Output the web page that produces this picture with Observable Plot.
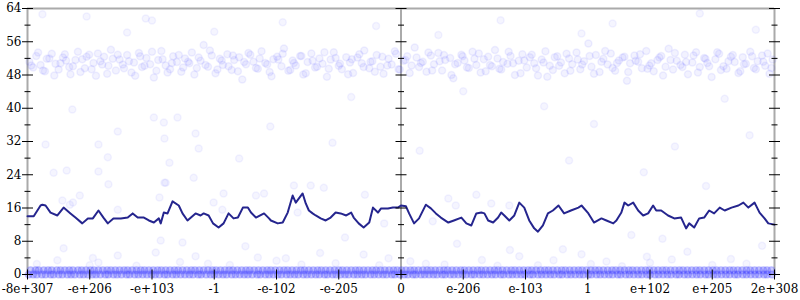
<!DOCTYPE html>
<html>
<head>
<meta charset="utf-8">
<script src="https://cdn.jsdelivr.net/npm/d3@7"></script>
<script src="https://cdn.jsdelivr.net/npm/@observablehq/plot@0.6"></script>
<style>
  html, body { margin: 0; padding: 0; background: #fff; }
  #chart svg { display: block; }
</style>
</head>
<body>
<div id="chart"></div>
<script>
// ---------- axis values ----------
const yTicks = [0, 8, 16, 24, 32, 40, 48, 56, 64];
const yMinorTicks = [4, 12, 20, 28, 36, 44, 52, 60];
const yAxisAt = [-6, 0, 6];
const xTickPos = [-6, -5, -4, -3, -2, -1, 0, 1, 2, 3, 4, 5, 6];
const xTickLabels = ["-8e+307", "-e+206", "-e+103", "-1", "-e-102", "-e-205", "0",
                     "e-206", "e-103", "1", "e+102", "e+205", "2e+308"];

// ---------- trend line (moving average) ----------
const trend = [[-6.00,14.0],[-5.90,14.0],[-5.79,16.6],[-5.76,16.8],[-5.71,16.6],[-5.63,14.9],[-5.52,14.2],[-5.42,16.1],[-5.31,14.7],[-5.23,13.7],[-5.12,12.3],[-5.03,13.5],[-4.95,13.5],[-4.86,15.4],[-4.78,13.7],[-4.71,12.3],[-4.62,13.5],[-4.50,13.5],[-4.39,13.7],[-4.31,14.7],[-4.23,13.7],[-4.13,13.7],[-4.05,13.0],[-3.97,12.5],[-3.89,13.5],[-3.86,12.3],[-3.81,14.9],[-3.75,14.7],[-3.67,17.6],[-3.57,16.6],[-3.51,14.7],[-3.43,13.0],[-3.30,14.7],[-3.22,14.2],[-3.17,14.7],[-3.09,14.2],[-3.02,12.3],[-2.93,11.3],[-2.85,12.3],[-2.77,14.7],[-2.69,13.5],[-2.62,13.7],[-2.54,16.1],[-2.46,16.1],[-2.41,14.9],[-2.33,13.7],[-2.20,14.7],[-2.12,13.5],[-2.09,13.0],[-1.98,12.3],[-1.90,12.5],[-1.82,14.9],[-1.74,19.0],[-1.69,17.3],[-1.58,19.5],[-1.53,17.1],[-1.48,15.4],[-1.42,14.7],[-1.37,14.2],[-1.29,13.5],[-1.21,13.0],[-1.13,13.7],[-1.05,14.9],[-0.97,14.7],[-0.88,14.2],[-0.80,14.9],[-0.76,13.7],[-0.68,12.3],[-0.60,11.3],[-0.51,12.5],[-0.45,16.1],[-0.37,14.9],[-0.32,15.9],[-0.21,15.9],[-0.13,16.1],[-0.05,16.1],[0.00,16.6],[0.08,16.4],[0.13,14.7],[0.21,12.3],[0.29,13.5],[0.40,16.8],[0.48,15.9],[0.56,14.7],[0.64,13.7],[0.76,12.5],[0.85,13.0],[0.97,13.7],[1.05,12.3],[1.13,11.8],[1.21,14.7],[1.29,14.9],[1.34,14.7],[1.40,13.0],[1.48,12.5],[1.56,13.7],[1.61,14.9],[1.66,14.2],[1.74,13.0],[1.82,14.2],[1.90,17.3],[1.98,16.1],[2.06,13.0],[2.14,11.1],[2.20,10.3],[2.28,11.8],[2.36,14.7],[2.44,15.4],[2.53,16.6],[2.62,14.7],[2.73,15.4],[2.85,16.1],[2.90,16.6],[3.01,14.7],[3.10,12.5],[3.22,13.5],[3.30,13.0],[3.41,12.3],[3.46,13.0],[3.54,14.9],[3.59,17.3],[3.65,16.6],[3.73,17.3],[3.81,15.4],[3.89,14.2],[3.97,14.7],[4.05,16.6],[4.10,15.4],[4.18,15.4],[4.29,14.2],[4.39,13.5],[4.50,13.7],[4.58,11.1],[4.63,12.3],[4.71,11.3],[4.79,13.5],[4.87,13.7],[4.95,15.4],[5.03,14.7],[5.12,16.1],[5.20,15.4],[5.31,16.1],[5.42,16.6],[5.50,17.3],[5.58,16.1],[5.68,17.3],[5.76,14.9],[5.84,13.5],[5.90,12.3],[6.00,12.0]];

// ---------- upper cloud of points ----------
const topBand = [[-5.97,51.2],[-5.91,49.8],[-5.86,52.6],[-5.79,50.4],[-5.72,48.9],[-5.69,51.9],[-5.61,53.1],[-5.55,50.7],[-5.5,49.3],[-5.43,52.2],[-5.38,51.5],[-5.31,48.2],[-5.27,50.1],[-5.19,53.6],[-5.12,51.8],[-5.08,49.6],[-5.01,52.9],[-4.94,50.9],[-4.9,47.8],[-4.83,51.3],[-4.77,52.4],[-4.7,50.2],[-4.66,54.1],[-4.58,49.1],[-4.52,51.7],[-4.47,50.5],[-4.4,52.8],[-4.33,48.6],[-4.29,51.0],[-4.21,53.3],[-4.16,49.9],[-4.09,52.1],[-4.03,50.6],[-3.97,47.4],[-3.9,51.6],[-3.85,53.8],[-3.78,50.3],[-3.71,49.4],[-3.66,52.5],[-3.6,51.1],[-3.53,48.8],[-3.47,52.0],[-3.4,50.8],[-3.36,53.4],[-3.28,49.7],[-3.22,51.4],[-3.17,55.2],[-3.1,50.0],[-3.04,52.7],[-2.98,48.4],[-2.91,51.9],[-2.86,50.4],[-2.79,53.0],[-2.72,49.2],[-2.68,51.6],[-2.6,52.3],[-2.55,46.9],[-2.49,50.6],[-2.42,52.9],[-2.37,51.2],[-2.3,49.5],[-2.24,53.7],[-2.18,50.9],[-2.11,48.7],[-2.05,51.8],[-1.99,52.4],[-1.92,50.1],[-1.88,54.4],[-1.81,49.0],[-1.74,51.5],[-1.69,50.3],[-1.62,52.6],[-1.57,48.1],[-1.5,51.1],[-1.44,53.2],[-1.38,49.8],[-1.31,52.0],[-1.26,50.7],[-1.19,47.6],[-1.13,51.7],[-1.08,53.5],[-1.0,50.2],[-0.95,49.4],[-0.88,52.3],[-0.82,51.0],[-0.77,48.5],[-0.7,52.2],[-0.63,50.8],[-0.59,53.9],[-0.51,49.6],[-0.46,51.3],[-0.39,52.8],[-0.33,50.0],[-0.28,48.3],[-0.2,51.9],[-0.15,50.5],[-0.08,53.1],[-0.02,49.3],[0.04,51.4],[0.1,52.5],[0.17,50.3],[0.22,54.6],[0.29,49.9],[0.35,51.2],[0.41,48.8],[0.48,52.7],[0.53,50.6],[0.6,53.3],[0.66,49.1],[0.71,51.6],[0.79,52.1],[0.84,47.2],[0.91,50.9],[0.97,52.9],[1.02,51.5],[1.09,49.7],[1.15,53.6],[1.21,50.4],[1.28,48.6],[1.33,51.8],[1.4,52.4],[1.46,50.1],[1.51,54.0],[1.58,49.5],[1.64,51.1],[1.71,50.7],[1.76,52.6],[1.83,48.0],[1.89,51.4],[1.95,53.0],[2.02,49.8],[2.07,52.3],[2.14,50.8],[2.2,47.9],[2.26,51.7],[2.32,53.7],[2.39,50.2],[2.44,49.2],[2.51,52.5],[2.57,51.0],[2.63,48.4],[2.7,52.0],[2.75,50.6],[2.82,53.4],[2.88,49.4],[2.94,51.3],[3.01,55.6],[3.06,50.0],[3.13,52.8],[3.19,48.7],[3.25,51.9],[3.32,50.5],[3.37,53.2],[3.44,49.0],[3.5,51.5],[3.56,52.2],[3.63,46.6],[3.68,50.8],[3.75,52.7],[3.81,51.2],[3.87,49.6],[3.94,53.8],[3.99,50.3],[4.06,48.9],[4.12,51.6],[4.18,52.6],[4.25,50.0],[4.3,54.3],[4.37,49.3],[4.43,51.4],[4.49,50.4],[4.56,52.9],[4.61,48.2],[4.68,51.0],[4.74,53.5],[4.8,49.9],[4.87,52.1],[4.92,50.9],[4.99,47.5],[5.05,51.8],[5.11,53.1],[5.18,50.1],[5.23,49.5],[5.3,52.4],[5.36,51.1],[5.42,48.5],[5.49,52.3],[5.54,50.7],[5.61,53.6],[5.67,49.7],[5.73,51.3],[5.8,52.7],[5.85,50.2],[5.92,48.3],[5.97,51.7]];
const topBand2 = [[-5.94,50.3],[-5.83,53.4],[-5.75,49.1],[-5.65,52.0],[-5.57,47.9],[-5.47,50.8],[-5.4,53.0],[-5.33,49.9],[-5.23,51.6],[-5.15,48.7],[-5.05,52.4],[-4.97,49.4],[-4.87,53.2],[-4.8,50.5],[-4.72,48.3],[-4.63,51.9],[-4.55,52.9],[-4.45,49.6],[-4.37,51.3],[-4.27,47.8],[-4.19,52.5],[-4.12,50.2],[-4.0,53.6],[-3.93,49.0],[-3.83,51.8],[-3.75,48.6],[-3.68,50.9],[-3.57,52.8],[-3.5,49.8],[-3.42,51.2],[-3.32,48.1],[-3.25,52.2],[-3.14,50.4],[-3.07,53.9],[-2.95,49.3],[-2.88,51.5],[-2.77,50.1],[-2.7,52.7],[-2.62,48.9],[-2.52,51.1],[-2.45,53.3],[-2.33,49.7],[-2.27,52.0],[-2.15,50.6],[-2.08,47.7],[-1.97,51.7],[-1.9,53.1],[-1.78,49.2],[-1.72,50.9],[-1.6,52.6],[-1.53,48.4],[-1.42,51.4],[-1.35,50.0],[-1.23,53.5],[-1.16,49.5],[-1.05,52.1],[-0.98,50.7],[-0.85,48.2],[-0.79,51.8],[-0.67,53.0],[-0.6,49.9],[-0.49,51.2],[-0.42,48.8],[-0.3,52.4],[-0.22,50.3],[-0.1,53.7],[-0.04,49.4],[0.07,51.6],[0.14,48.5],[0.25,52.2],[0.32,50.9],[0.44,53.4],[0.5,49.1],[0.62,51.3],[0.69,52.8],[0.81,48.0],[0.87,50.6],[0.99,52.5],[1.06,49.8],[1.18,51.9],[1.25,53.2],[1.36,48.9],[1.43,50.4],[1.55,52.0],[1.61,49.3],[1.73,53.6],[1.8,50.8],[1.92,48.4],[1.98,51.5],[2.1,52.9],[2.17,49.6],[2.29,51.0],[2.35,47.6],[2.47,52.3],[2.54,50.2],[2.66,53.1],[2.72,49.0],[2.84,51.7],[2.91,50.5],[3.03,52.6],[3.1,48.3],[3.22,51.2],[3.28,53.8],[3.4,49.7],[3.47,50.9],[3.59,52.4],[3.65,48.7],[3.77,51.4],[3.84,53.0],[3.96,49.5],[4.02,50.8],[4.15,52.2],[4.21,47.9],[4.33,51.6],[4.4,53.3],[4.52,49.9],[4.58,51.1],[4.7,52.7],[4.77,48.6],[4.89,51.9],[4.95,50.1],[5.08,53.5],[5.14,49.2],[5.26,51.3],[5.33,52.8],[5.45,48.9],[5.51,50.6],[5.64,52.5],[5.7,49.4],[5.82,51.2],[5.89,53.2],[5.95,49.7]];

// ---------- lower band of points (values 0 and 1) ----------
const zeroRowX = [-5.98,-5.91,-5.85,-5.77,-5.71,-5.63,-5.58,-5.5,-5.44,-5.36,-5.3,-5.24,-5.16,-5.1,-5.03,-4.96,-4.9,-4.83,-4.75,-4.7,-4.62,-4.56,-4.49,-4.41,-4.36,-4.28,-4.22,-4.15,-4.08,-4.01,-3.95,-3.88,-3.8,-3.75,-3.67,-3.61,-3.54,-3.47,-3.4,-3.34,-3.26,-3.21,-3.13,-3.06,-3.0,-2.93,-2.86,-2.8,-2.72,-2.66,-2.59,-2.52,-2.46,-2.39,-2.31,-2.26,-2.18,-2.12,-2.05,-1.98,-1.92,-1.84,-1.78,-1.71,-1.65,-1.57,-1.51,-1.44,-1.37,-1.31,-1.23,-1.18,-1.1,-1.04,-0.97,-0.9,-0.84,-0.76,-0.7,-0.63,-0.57,-0.49,-0.43,-0.36,-0.29,-0.23,-0.15,-0.1,-0.02,0.05,0.11,0.19,0.24,0.32,0.38,0.45,0.52,0.58,0.66,0.71,0.79,0.85,0.92,0.99,1.05,1.13,1.18,1.26,1.32,1.39,1.46,1.52,1.6,1.65,1.73,1.79,1.86,1.93,1.99,2.07,2.12,2.2,2.26,2.33,2.4,2.46,2.54,2.59,2.67,2.73,2.8,2.87,2.93,3.01,3.06,3.14,3.2,3.27,3.34,3.4,3.48,3.53,3.61,3.67,3.74,3.81,3.87,3.95,4.0,4.08,4.14,4.21,4.28,4.34,4.42,4.47,4.55,4.61,4.68,4.75,4.81,4.89,4.94,5.02,5.08,5.15,5.22,5.28,5.36,5.41,5.49,5.55,5.62,5.69,5.75,5.83,5.88,5.96];
const oneRowX = [-5.95,-5.87,-5.82,-5.74,-5.67,-5.61,-5.53,-5.47,-5.4,-5.33,-5.27,-5.19,-5.13,-5.06,-4.99,-4.93,-4.86,-4.79,-4.72,-4.66,-4.59,-4.52,-4.45,-4.39,-4.32,-4.25,-4.18,-4.12,-4.05,-3.98,-3.91,-3.85,-3.78,-3.71,-3.64,-3.58,-3.51,-3.44,-3.37,-3.31,-3.24,-3.17,-3.1,-3.03,-2.97,-2.9,-2.83,-2.76,-2.7,-2.63,-2.56,-2.49,-2.43,-2.36,-2.29,-2.22,-2.15,-2.09,-2.02,-1.95,-1.88,-1.82,-1.75,-1.68,-1.61,-1.55,-1.48,-1.41,-1.34,-1.28,-1.21,-1.14,-1.07,-1.0,-0.94,-0.87,-0.8,-0.73,-0.67,-0.6,-0.53,-0.46,-0.4,-0.33,-0.26,-0.19,-0.12,-0.06,0.01,0.08,0.15,0.21,0.28,0.35,0.42,0.48,0.55,0.62,0.69,0.75,0.82,0.89,0.96,1.02,1.09,1.16,1.23,1.29,1.36,1.43,1.5,1.56,1.63,1.7,1.77,1.83,1.9,1.97,2.04,2.1,2.17,2.24,2.31,2.37,2.44,2.51,2.58,2.64,2.71,2.78,2.85,2.91,2.98,3.05,3.12,3.18,3.25,3.32,3.39,3.45,3.52,3.59,3.66,3.72,3.79,3.86,3.93,3.99,4.06,4.13,4.2,4.26,4.33,4.4,4.47,4.53,4.6,4.67,4.74,4.8,4.87,4.94,5.01,5.07,5.14,5.21,5.28,5.34,5.41,5.48,5.55,5.61,5.68,5.75,5.82,5.88,5.95];

// ---------- scattered points between the bands ----------
const sparse = [[-5.76,62.6],[-5.05,62.1],[-4.1,61.6],[-4.0,61.1],[-5.28,39.7],[-4.55,34.4],[-5.71,31.3],[-4.86,31.3],[-4.71,28.2],[-5.58,24.5],[-5.37,25.0],[-4.86,24.8],[-4.7,21.7],[-3.97,37.8],[-3.81,36.6],[-3.59,37.8],[-3.3,33.9],[-3.8,32.7],[-3.25,30.3],[-3.72,26.9],[-3.8,22.1],[-3.33,23.3],[-3.86,8.2],[-3.51,7.7],[-3.94,5.3],[-5.42,6.3],[-5.52,3.4],[-4.55,4.6],[-4.86,2.9],[-5.16,19.0],[-5.27,17.3],[-5.32,16.8],[-5.44,17.8],[-4.55,15.6],[-3.78,22.1],[-3.88,18.5],[-2.85,19.5],[-3.01,17.3],[-2.87,15.6],[-2.33,19.0],[-2.2,19.5],[-1.72,21.4],[-1.45,21.4],[-1.24,20.9],[-0.58,19.2],[-1.66,14.9],[-0.27,12.3],[0.76,18.3],[1.21,19.2],[0.88,16.6],[1.45,17.1],[1.74,16.6],[0.51,12.8],[2.3,40.5],[3.1,36.2],[4.4,30.8],[5.2,42.3],[1.0,44.1],[-0.8,42.7],[-2.1,35.6],[2.7,27.4],[3.9,24.6],[4.9,21.3],[5.6,33.5],[0.3,29.8],[-1.1,31.7],[-2.6,27.9],[-0.4,59.8],[1.6,61.2],[3.4,60.4],[4.8,62.8],[5.7,58.9],[-1.9,60.7],[-3.0,58.4],[2.9,58.0],[0.6,57.6],[-4.4,58.2],[-2.5,6.8],[-1.3,5.2],[-0.2,3.9],[0.9,7.4],[1.9,4.4],[2.6,6.1],[3.3,3.1],[4.2,8.6],[4.6,5.5],[5.3,3.7],[5.8,6.9],[-0.9,8.9],[-2.0,3.3],[3.7,9.5],[-1.6,2.4],[0.4,2.6],[2.2,2.2],[4.0,2.8],[5.0,2.3],[-3.1,2.6],[-5.0,2.2],[-0.6,4.8],[1.3,3.5],[2.9,4.9],[-5.85,2.5],[-4.25,2.1],[-3.55,3.0],[-2.75,2.3],[-2.3,4.1],[-1.05,2.7],[-0.35,2.2],[0.15,3.2],[0.7,2.4],[1.55,2.1],[2.45,3.4],[3.05,2.5],[3.55,2.0],[4.35,3.6],[5.55,2.6],[-4.95,4.0],[-1.85,3.9],[1.75,5.9],[-3.3,4.4],[3.95,4.3]];

// custom tick symbols: short strokes centred on the point
const hTick = {draw(ctx, size) { const r = Math.sqrt(size / Math.PI); ctx.moveTo(-r, 0); ctx.lineTo(r, 0); }};
const vTick = {draw(ctx, size) { const r = Math.sqrt(size / Math.PI); ctx.moveTo(0, -r); ctx.lineTo(0, r); }};

const majorY = yAxisAt.flatMap(x => yTicks.map(y => ({x, y})));
const minorY = yAxisAt.flatMap(x => yMinorTicks.map(y => ({x, y})));
const bottomRows = [...zeroRowX.map(x => ({x, y: 0})), ...oneRowX.map(x => ({x, y: 1}))];
const cloud = [...topBand, ...topBand2];

const dotColor = "#3d3dff";

const chart = Plot.plot({
  width: 800,
  height: 300,
  marginLeft: 27,
  marginRight: 26,
  marginTop: 8,
  marginBottom: 26,
  style: {fontFamily: "DejaVu Serif", fontSize: "12px", background: "white", overflow: "visible"},
  x: {domain: [-6, 6], label: null},
  y: {domain: [0, 64], label: null},
  marks: [
    Plot.ruleX(yAxisAt, {stroke: "#aaa", strokeWidth: 2}),
    Plot.ruleY([64], {stroke: "#aaa", strokeWidth: 2}),
    Plot.dot(cloud, {x: d => d[0], y: d => d[1], r: 3.5, fill: dotColor, fillOpacity: 0.065, stroke: dotColor, strokeOpacity: 0.07}),
    Plot.dot(sparse, {x: d => d[0], y: d => d[1], r: 3.5, fill: dotColor, fillOpacity: 0.05, stroke: dotColor, strokeOpacity: 0.06}),
    Plot.dot(bottomRows, {x: "x", y: "y", r: 3.5, fill: dotColor, fillOpacity: 0.28, stroke: dotColor, strokeOpacity: 0.2}),
    Plot.line(trend, {x: d => d[0], y: d => d[1], stroke: "#25258e", strokeWidth: 2}),
    Plot.dot(majorY, {x: "x", y: "y", r: 5.5, symbol: hTick, stroke: "black", fill: "none", strokeWidth: 1}),
    Plot.dot(minorY, {x: "x", y: "y", r: 3, symbol: hTick, stroke: "black", fill: "none", strokeWidth: 1}),
    Plot.dot(xTickPos, {x: d => d, y: 0, r: 5, symbol: vTick, stroke: "black", fill: "none", strokeWidth: 1}),
    Plot.axisY(yTicks, {anchor: "left", tickSize: 0, tickPadding: 6, fontSize: 12, fontFamily: "DejaVu Serif", label: null}),
    Plot.axisX(xTickPos, {anchor: "bottom", tickSize: 0, tickPadding: 10, fontSize: 12, fontFamily: "DejaVu Serif", label: null,
      tickFormat: d => xTickLabels[xTickPos.indexOf(d)]})
  ]
});
document.getElementById("chart").appendChild(chart);
</script>
</body>
</html>
